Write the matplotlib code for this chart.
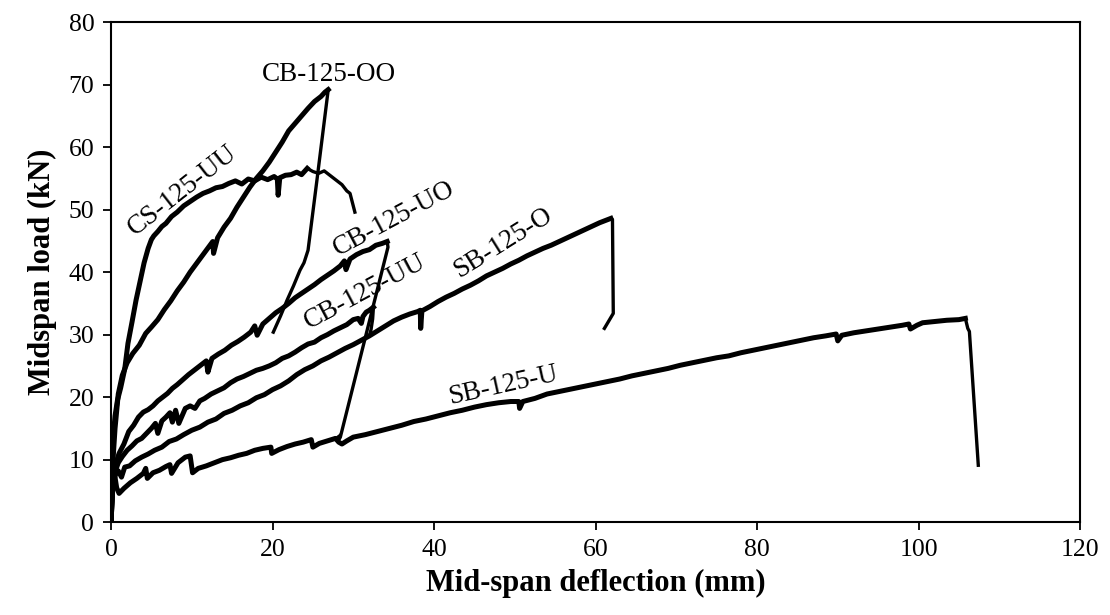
import numpy as np
import matplotlib
matplotlib.use("Agg")
import matplotlib.pyplot as plt

plt.rcParams["font.family"] = ["Liberation Serif", "DejaVu Serif"]

# CS-125-UU
cs_x = [0, 0.1, 0.3, 0.5, 0.8, 1.2, 1.7, 2.1, 2.6, 3.1, 3.6, 4.1, 4.6, 5.0, 5.3, 5.8, 6.3, 6.8,
        7.5, 8.2, 9.0, 9.8, 10.6, 11.4, 12.2, 13.0, 13.8, 14.6, 15.4, 16.2, 17.0, 17.8, 18.6,
        19.4, 20.2, 20.6, 20.7, 20.9, 21.6, 22.3, 23.0, 23.6, 24.3, 25.0, 25.7, 26.4, 27.2,
        28.0, 28.6, 29.2, 29.6, 30.2]
cs_y = [0, 8, 14, 17, 19.5, 21.5, 24.5, 28.6, 32, 35.5, 38.5, 41.5, 43.8, 45.2, 45.8, 46.5,
        47.3, 47.8, 48.9, 49.6, 50.6, 51.3, 52.0, 52.6, 53.0, 53.5, 53.7, 54.2, 54.6, 54.1,
        54.9, 54.6, 55.2, 54.8, 55.3, 54.9, 52.3, 55.1, 55.5, 55.6, 56.0, 55.6, 56.6, 56.1,
        55.8, 56.2, 55.4, 54.6, 54.0, 53.0, 52.6, 49.6]

# CB-125-OO
oo_x = [0, 0.2, 0.5, 0.9, 1.4, 2.0, 2.7, 3.5, 4.3, 5.0, 5.8, 6.6, 7.4, 8.2, 9.0, 9.8, 10.6,
        11.4, 12.2, 12.6, 12.7, 13.2, 14.0, 14.8, 15.6, 16.4, 17.2, 18.0, 18.8, 19.6, 20.4,
        21.2, 22.0, 22.8, 23.6, 24.4, 25.2, 26.0, 26.5, 26.9, 25.5, 24.4, 23.9, 23.4, 22.6,
        21.8, 21.0, 20.1]
oo_y = [0, 9, 15, 20.5, 23.5, 25.5, 27, 28.3, 30.2, 31.2, 32.4, 34.0, 35.4, 37.0, 38.4, 40.0,
        41.4, 42.8, 44.2, 44.9, 43.0, 45.5, 47.2, 48.6, 50.4, 52.0, 53.6, 55.0, 56.2, 57.6,
        59.2, 60.8, 62.6, 63.8, 65.0, 66.2, 67.3, 68.1, 68.8, 69.2, 54.7, 43.5, 41.5, 40.3,
        37.8, 35.5, 33.0, 30.4]

# CB-125-UO
uo_x = [0, 0.2, 0.5, 1.0, 1.6, 2.2, 2.8, 3.4, 4.0, 4.6, 5.2, 5.8, 6.4, 7.0, 7.6, 8.2, 8.9,
        9.6, 10.3, 11.0, 11.8, 12.0, 12.5, 13.3, 14.1, 14.9, 15.7, 16.5, 17.3, 17.8, 18.1,
        18.8, 19.6, 20.4, 21.2, 22.0, 22.8, 23.6, 24.4, 25.2, 26.0, 26.8, 27.6, 28.4, 28.9,
        29.1, 29.6, 30.4, 31.2, 32.0, 32.8, 33.6, 34.2, 34.3, 28.4, 28.1, 27.9, 28.3]
uo_y = [0, 6, 9, 11, 12.5, 14.5, 15.5, 16.8, 17.6, 18.0, 18.6, 19.4, 20.0, 20.6, 21.4, 22.0,
        22.8, 23.6, 24.3, 25.0, 25.8, 24.0, 26.2, 26.9, 27.5, 28.3, 28.9, 29.6, 30.4, 31.4,
        29.9, 31.7, 32.6, 33.5, 34.2, 35.0, 35.9, 36.6, 37.3, 38.0, 38.8, 39.5, 40.2, 41.0,
        41.8, 40.4, 42.1, 42.8, 43.3, 43.6, 44.3, 44.6, 44.9, 44.0, 13.6, 12.9, 13.4, 13.8]

# CB-125-UU
uu_x = [0, 0.2, 0.5, 0.9, 1.4, 2.0, 2.6, 3.2, 3.8, 4.4, 5.0, 5.5, 5.8, 6.3, 6.8, 7.3, 7.6,
        8.0, 8.4, 8.8, 9.2, 9.8, 10.4, 11.0, 11.6, 12.4, 13.2, 14.0, 14.8, 15.6, 16.4, 17.2,
        18.0, 18.8, 19.6, 20.4, 21.2, 22.0, 22.8, 23.6, 24.4, 25.2, 26.0, 26.8, 27.6, 28.4,
        29.2, 30.0, 30.6, 31.0, 31.2, 31.6, 32.0, 32.5, 32.4, 32.2, 32.0]
uu_y = [0, 5, 8, 9.5, 10.5, 11.5, 12.2, 13.0, 13.4, 14.2, 15.0, 15.8, 14.2, 16.2, 16.8, 17.5,
        16.0, 17.9, 15.8, 17.0, 18.2, 18.6, 18.2, 19.4, 19.8, 20.5, 21.0, 21.5, 22.3, 22.9,
        23.3, 23.8, 24.3, 24.6, 25.0, 25.5, 26.2, 26.6, 27.2, 27.9, 28.5, 28.8, 29.5, 30.0,
        30.6, 31.1, 31.6, 32.4, 32.6, 31.8, 32.9, 33.6, 33.9, 34.4, 32.5, 30.8, 29.8]

# SB-125-O
so_x = [0, 0.2, 0.5, 0.9, 1.3, 1.7, 2.3, 3.0, 3.8, 4.6, 5.4, 6.3, 7.2, 8.1, 9.0, 10.0, 11.0,
        12.0, 13.0, 14.0, 15.0, 16.0, 17.0, 18.0, 19.0, 20.0, 21.0, 22.0, 23.0, 24.0, 25.0,
        26.0, 27.0, 28.0, 29.0, 30.0, 31.0, 32.0, 33.0, 34.0, 35.0, 36.0, 37.0, 38.0, 38.3,
        38.35, 38.5, 39.5, 40.5, 41.5, 42.5, 43.5, 44.5, 45.5, 46.5, 47.5, 48.5, 49.5, 50.5,
        51.5, 52.5, 53.5, 54.5, 55.5, 56.5, 57.5, 58.5, 59.5, 60.5, 61.3, 61.9, 62.1, 62.2,
        61.1]
so_y = [0, 5, 7.5, 8.2, 7.2, 8.8, 9.0, 9.8, 10.4, 10.9, 11.5, 12.0, 12.9, 13.3, 14.0, 14.7,
        15.2, 16.0, 16.5, 17.4, 17.9, 18.6, 19.1, 19.9, 20.4, 21.2, 21.8, 22.6, 23.6, 24.4,
        25.0, 25.8, 26.4, 27.1, 27.8, 28.4, 29.1, 29.8, 30.6, 31.4, 32.2, 32.8, 33.3, 33.7,
        33.9, 31.0, 33.8, 34.5, 35.3, 36.0, 36.6, 37.3, 37.9, 38.6, 39.4, 40.0, 40.6, 41.3,
        41.9, 42.6, 43.2, 43.8, 44.3, 44.9, 45.5, 46.1, 46.7, 47.3, 47.9, 48.3, 48.6, 48.4,
        33.4, 31.0]

# SB-125-U
su_x = [0, 0.15, 0.4, 0.7, 1.0, 1.6, 2.4, 3.2, 4.0, 4.3, 4.5, 5.2, 6.0, 6.8, 7.3, 7.5, 8.3,
        9.2, 9.8, 10.1, 10.8, 11.8, 12.8, 13.8, 14.8, 15.8, 16.8, 17.8, 18.8, 19.8, 19.9,
        20.8, 21.8, 22.8, 23.8, 24.8, 25.0, 25.8, 26.8, 27.8, 28.2, 28.6, 29.2, 30.0, 31.5,
        33.0, 34.5, 36.0, 37.5, 39.0, 40.5, 42.0, 43.5, 45.0, 46.5, 48.0, 49.5, 50.5, 50.6,
        51.0, 52.5, 54.0, 55.5, 57.0, 58.5, 60.0, 61.5, 63.0, 64.5, 66.0, 67.5, 69.0, 70.5,
        72.0, 73.5, 75.0, 76.5, 78.0, 79.5, 81.0, 82.5, 84.0, 85.5, 87.0, 88.5, 89.8, 90.0,
        90.5, 92.0, 93.5, 95.0, 96.5, 98.0, 98.8, 99.0, 99.8, 100.5, 102.0, 103.5, 105.0,
        105.8, 106.1, 106.3, 107.4]
su_y = [0, 6, 8, 5.5, 4.6, 5.4, 6.3, 7.0, 7.8, 8.6, 7.0, 7.9, 8.3, 8.9, 9.2, 7.8, 9.5, 10.4,
        10.6, 7.9, 8.6, 9.0, 9.5, 10.0, 10.3, 10.7, 11.0, 11.5, 11.8, 12.0, 11.0, 11.6, 12.1,
        12.5, 12.8, 13.2, 12.0, 12.6, 13.0, 13.4, 12.8, 12.5, 13.0, 13.6, 14.0, 14.5, 15.0,
        15.5, 16.1, 16.5, 17.0, 17.5, 17.9, 18.4, 18.8, 19.1, 19.3, 19.3, 18.2, 19.3, 19.8,
        20.5, 20.9, 21.3, 21.7, 22.1, 22.5, 22.9, 23.4, 23.8, 24.2, 24.6, 25.1, 25.5, 25.9,
        26.3, 26.6, 27.1, 27.5, 27.9, 28.3, 28.7, 29.1, 29.5, 29.8, 30.1, 29.0, 29.9, 30.3,
        30.6, 30.9, 31.2, 31.5, 31.7, 30.9, 31.5, 31.9, 32.1, 32.3, 32.4, 32.6, 31.0, 30.5,
        9.1]

series = [(cs_x, cs_y), (oo_x, oo_y), (uo_x, uo_y), (uu_x, uu_y), (so_x, so_y), (su_x, su_y)]

fig = plt.figure(figsize=(11.1, 6.15), dpi=100)
ax = fig.add_axes([0.1, 0.151, 0.873, 0.813])

for xs, ys in series:
    xs = np.array(xs)
    ys = np.array(ys)
    k = int(np.argmax(ys))
    ax.plot(xs[:k + 1], ys[:k + 1], color="black", lw=3.6, solid_joinstyle="round")
    ax.plot(xs[k:], ys[k:], color="black", lw=2.4, solid_joinstyle="round")

# curve labels
lbl = dict(fontsize=19.5, ha="center", va="center", rotation_mode="anchor")
ax.text(8.8, 53.1, "CS-125-UU", rotation=38, **lbl)
ax.text(27.0, 71.7, "CB-125-OO", rotation=0, **lbl)
ax.text(35.0, 48.6, "CB-125-UO", rotation=28, **lbl)
ax.text(31.5, 36.8, "CB-125-UU", rotation=28, **lbl)
ax.text(48.5, 44.6, "SB-125-O", rotation=32, **lbl)
ax.text(48.5, 21.9, "SB-125-U", rotation=12.5, **lbl)

ax.set_xlim(0, 120)
ax.set_ylim(0, 80)
ax.set_xticks(np.arange(0, 121, 20))
ax.set_yticks(np.arange(0, 81, 10))
ax.tick_params(direction="out", length=6, width=1.3, labelsize=18.5, pad=6)
for s in ax.spines.values():
    s.set_linewidth(1.5)

ax.set_xlabel("Mid-span deflection (mm)", fontsize=22, fontweight="bold", labelpad=6)
ax.set_ylabel("Midspan load (kN)", fontsize=22, fontweight="bold", labelpad=8)

fig.savefig("out.png", dpi=100)
